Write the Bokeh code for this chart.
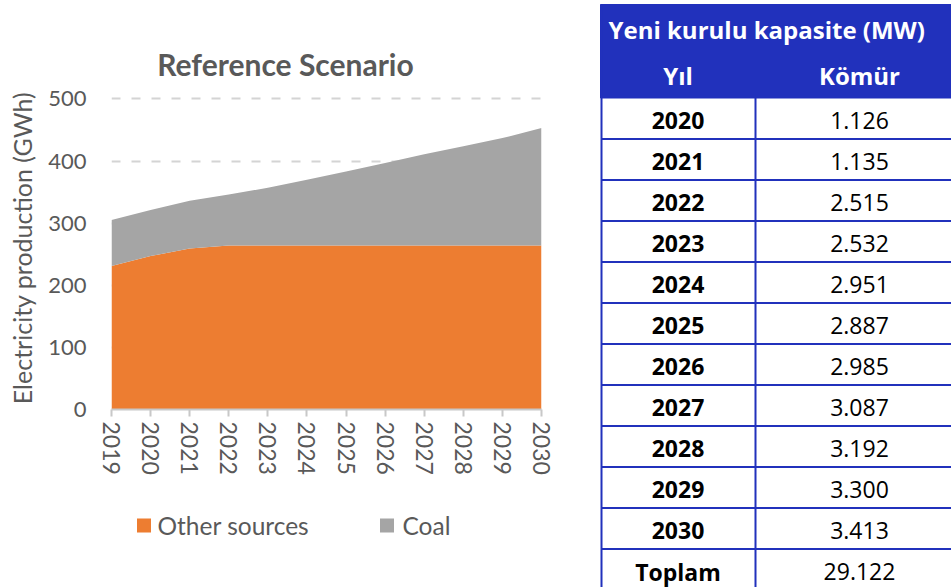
from bokeh.plotting import figure
from bokeh.layouts import row, column
from bokeh.models import ColumnDataSource, Range1d, FixedTicker
from bokeh.embed import file_html
from bokeh.resources import INLINE
from bokeh.core.properties import value

# ---------------- data ----------------
years = [2019, 2020, 2021, 2022, 2023, 2024, 2025, 2026, 2027, 2028, 2029, 2030]
other_sources = [231, 247, 259, 264, 264, 264, 264, 264, 264, 264, 264, 264]
coal = [74, 74, 77, 82, 93, 106, 119, 133, 147, 160, 173, 189]
y_ticks = [0, 100, 200, 300, 400, 500]

chart_title = "Reference Scenario"
y_label = "Electricity production (GWh)"
series_names = ["Other sources", "Coal"]

table_title = "Yeni kurulu kapasite (MW)"
table_headers = ["Yıl", "Kömür"]
table_years = ["2020", "2021", "2022", "2023", "2024", "2025", "2026", "2027", "2028", "2029", "2030"]
table_coal_mw = [1126, 1135, 2515, 2532, 2951, 2887, 2985, 3087, 3192, 3300, 3413]
table_total_label = "Toplam"
table_total = 29122

ORANGE = "#ED7D31"
GRAY = "#A5A5A5"
TXT = "#595959"
BLUE = "#2131BC"
CH_FONT = "Lato"
TB_FONT = "Open Sans"
colors = [ORANGE, GRAY]

PAGE_H = 587
LW = 599            # left (chart) column width
TW = 951 - LW       # table figure width


def blank(w, h):
    f = figure(width=w, height=h, x_range=Range1d(0, w), y_range=Range1d(h, 0),
               output_backend="svg", toolbar_location=None, min_border=0,
               x_axis_type=None, y_axis_type=None)
    f.frame_align = False
    f.outline_line_color = None
    f.xgrid.visible = False
    f.ygrid.visible = False
    return f


# ---------------- title ----------------
TTL_H = 82
p_title = blank(LW, TTL_H)
p_title.text(x=[285], y=[63], text=[chart_title], text_color=TXT, text_font=value(CH_FONT),
             text_font_size="30px", text_font_style="bold", text_align="center", text_baseline="middle")

# ---------------- chart ----------------
CH_H = 416
src = ColumnDataSource(dict(year=years, other=other_sources, coal=coal))

p1 = figure(width=LW, height=CH_H, x_range=Range1d(years[0], years[-1]), y_range=Range1d(0, 520),
            output_backend="svg", toolbar_location=None,
            min_border_left=111, min_border_right=58, min_border_top=4, min_border_bottom=89)
p1.frame_align = False
p1.outline_line_color = None

rs = p1.varea_stack(["other", "coal"], x="year", color=colors, source=src)

p1.xgrid.visible = False
p1.yaxis.ticker = FixedTicker(ticks=y_ticks)
p1.ygrid.grid_line_color = "#D4D4D4"
p1.ygrid.grid_line_width = 2
p1.ygrid.grid_line_dash = "9 11"

ya = p1.yaxis[0]
ya.axis_line_color = None
ya.major_tick_line_color = None
ya.minor_tick_line_color = None
ya.major_label_text_font = CH_FONT
ya.major_label_text_font_size = "22px"
ya.major_label_text_color = TXT
ya.major_label_standoff = 19
ya.axis_label = y_label
ya.axis_label_text_font = CH_FONT
ya.axis_label_text_font_size = "25px"
ya.axis_label_text_font_style = "normal"
ya.axis_label_text_color = TXT
ya.axis_label_standoff = 8

xa = p1.xaxis[0]
xa.ticker = FixedTicker(ticks=years)
xa.axis_line_color = "#C8C8C8"
xa.axis_line_width = 2
xa.major_tick_line_color = "#C8C8C8"
xa.major_tick_line_width = 2
xa.major_tick_in = 0
xa.major_tick_out = 7
xa.minor_tick_line_color = None
xa.major_label_orientation = "vertical"
xa.major_label_standoff = 5
xa.major_label_text_font = CH_FONT
xa.major_label_text_font_size = "23px"
xa.major_label_text_color = TXT

# ---------------- legend ----------------
LEG_H = PAGE_H - TTL_H - CH_H
p_leg = blank(LW, LEG_H)
leg_sq_x = [143.5, 386.5]
leg_tx_x = [157, 402]
p_leg.rect(x=leg_sq_x, y=[27, 27], width=14, height=14, width_units="screen", height_units="screen",
           fill_color=colors, line_color=None)
p_leg.text(x=leg_tx_x, y=[27, 27], text=series_names, text_color=TXT, text_font=value(CH_FONT),
           text_font_size="24.5px", text_align="left", text_baseline="middle")

# ---------------- table ----------------
HEAD_T = 4
HEAD_B = 97.5
ROW_H = 41
LEFT_X = 2
COL_X = 156
C1 = 78.5
C2 = 260

p2 = blank(TW, PAGE_H)
p2.quad(left=[LEFT_X - 1], right=[TW], top=[HEAD_T], bottom=[HEAD_B], color=BLUE)

row_labels = table_years + [table_total_label]
row_vals = table_coal_mw + [table_total]
n = len(row_labels)
centers = [HEAD_B + ROW_H * i + ROW_H / 2 + 2.4 for i in range(n)]
fmt = [f"{v:,}".replace(",", ".") for v in row_vals]

bounds = [HEAD_B + ROW_H * (i + 1) for i in range(n - 1)]
p2.segment(x0=[LEFT_X] * len(bounds), x1=[TW] * len(bounds), y0=bounds, y1=bounds,
           line_color=BLUE, line_width=2)
p2.segment(x0=[LEFT_X, COL_X], x1=[LEFT_X, COL_X], y0=[HEAD_T, HEAD_B], y1=[PAGE_H, PAGE_H],
           line_color=BLUE, line_width=2)

p2.text(x=[9], y=[29], text=[table_title], text_color="white", text_font=value(TB_FONT),
        text_font_size="24px", text_font_style="bold", text_align="left", text_baseline="middle")
p2.text(x=[C1, C2], y=[75, 75], text=table_headers, text_color="white", text_font=value(TB_FONT),
        text_font_size="24px", text_font_style="bold", text_align="center", text_baseline="middle")
p2.text(x=[C1] * n, y=centers, text=row_labels, text_color="black", text_font=value(TB_FONT),
        text_font_size="23px", text_font_style="bold", text_align="center", text_baseline="middle")
p2.text(x=[C2] * n, y=centers, text=fmt, text_color="black", text_font=value(TB_FONT),
        text_font_size="23px", text_align="center", text_baseline="middle")

layout = row(column(p_title, p1, p_leg), p2)
open("out.html", "w").write(file_html(layout, INLINE))
